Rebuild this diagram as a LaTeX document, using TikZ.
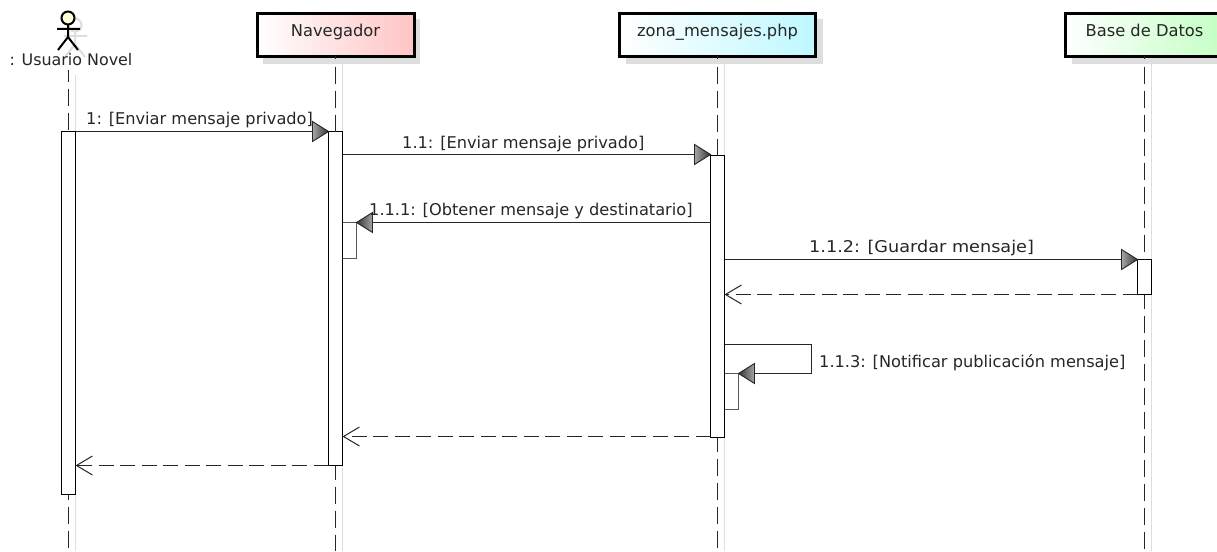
\documentclass[tikz,border=0pt]{standalone}
\usepackage{fontspec}
\setmainfont{DejaVu Sans}
\usetikzlibrary{arrows.meta}
\definecolor{lineink}{gray}{0.15}
\definecolor{shadowink}{gray}{0.87}
\definecolor{navpink}{RGB}{255,196,196}
\definecolor{phpcyan}{RGB}{190,248,255}
\definecolor{dbgreen}{RGB}{196,255,196}
\definecolor{actorhead}{RGB}{255,255,214}
\tikzset{
  headbox/.style={rectangle,draw=black,line width=3pt,minimum height=43pt,inner sep=0pt,outer sep=0pt,font=\fontsize{16.3}{19}\selectfont,text=lineink},
  headshadow/.style={fill=shadowink,draw=none},
  bar/.style={rectangle,draw=black,fill=white,line width=1.3pt,minimum width=14pt,inner sep=0pt,outer sep=0pt,anchor=north},
  selfbar/.style={bar,draw=black!65,anchor=north west,minimum height=36pt},
  lifeline/.style={draw=lineink,line width=1.3pt,dash pattern=on 17pt off 7pt},
  shadowline/.style={draw=shadowink,line width=1pt},
  msg/.style={draw=lineink,line width=1.3pt},
  reply/.style={draw=lineink,line width=1.3pt,dash pattern=on 15pt off 6.5pt,-{Straight Barb[length=16pt,width=19pt,line width=1pt]}},
  msglabel/.style={font=\fontsize{16.2}{19}\selectfont,text=lineink,inner sep=0pt,anchor=west},
  stick/.style={draw=black,line width=2pt},
  headright/.style={draw=black!85,line width=0.9pt,left color=gray!70,right color=black!80},
  headleft/.style={draw=black!85,line width=0.9pt,left color=black!80,right color=gray!70}
}
% filled message heads, each with its tip at the given point
\newcommand{\headtoright}[1]{\shadedraw[shift={(#1)},headright] (0,0) -- (-16,-10) -- (-16,10) -- cycle;}
\newcommand{\headtoleft}[1]{\shadedraw[shift={(#1)},headleft] (0,0) -- (16,-10) -- (16,10) -- cycle;}
\begin{document}
\begin{tikzpicture}[x=1pt,y=-1pt]
\useasboundingbox (0,0) rectangle (1217,551);
\clip (0,0) rectangle (1217,551);
\fill[white] (0,0) rectangle (1217,551);
% row levels
\coordinate (r1) at (0,131.5);
\coordinate (r2) at (0,154.5);
\coordinate (r3) at (0,222.5);
\coordinate (r4) at (0,259.5);
\coordinate (r5) at (0,294.5);
\coordinate (r6a) at (0,344.5);
\coordinate (r6b) at (0,373.5);
\coordinate (r7) at (0,436.5);
\coordinate (r8) at (0,465.5);
\coordinate (loopr) at (811.5,0);
% lifeline ends
\coordinate (uTop) at (68.5,70);
\coordinate (uEnd) at (68.5,551);
\coordinate (nEnd) at (335.5,551);
\coordinate (zEnd) at (717.5,551);
\coordinate (dEnd) at (1144.5,551);
% shadows
\fill[headshadow] (263,19) rectangle (420,64);
\fill[headshadow] (626,19) rectangle (823,64);
\fill[headshadow] (1072,19) rectangle (1230,64);
\draw[shadowline] (75.5,75) -- (75.5,551);
\draw[shadowline] (342.5,64) -- (342.5,551);
\draw[shadowline] (724.5,64) -- (724.5,551);
\draw[shadowline] (1151.5,64) -- (1151.5,551);
% actor shadow
\begin{scope}[draw=shadowink,line width=2pt,shift={(7,7)}]
  \draw (68,18) circle (6.5);
  \draw (68,24.5) -- (68,37) (57,29) -- (80,29) (58,50) -- (68,37) -- (78,50);
\end{scope}
% heads
\node[headbox,minimum width=157pt,left color=white,right color=navpink] (nav) at (335.5,35) {\raisebox{9pt}{Navegador}};
\node[headbox,minimum width=196pt,left color=white,right color=phpcyan] (php) at (717.5,35) {\raisebox{9pt}{zona\_mensajes.php}};
\node[headbox,minimum width=158pt,left color=white,right color=dbgreen] (db) at (1144.5,35) {\raisebox{9pt}{Base de Datos}};
% activation bars
\node[bar,minimum height=363pt] (bU) at (68.5,131.5) {};
\node[bar,minimum height=334pt] (bN) at (335.5,131.5) {};
\node[bar,minimum height=282pt] (bZ) at (717.5,155.5) {};
\node[bar,minimum height=35pt] (bD) at (1144.5,259.5) {};
% lifelines
\draw[lifeline,dash phase=5pt] (uTop) -- (bU.north);
\draw[lifeline,dash phase=12pt] (bU.south) -- (uEnd);
\draw[lifeline,dash phase=14pt] (nav.south) -- (bN.north);
\draw[lifeline,dash phase=3pt] (bN.south) -- (nEnd);
\draw[lifeline,dash phase=14pt] (php.south) -- (bZ.north);
\draw[lifeline,dash phase=3pt] (bZ.south) -- (zEnd);
\draw[lifeline,dash phase=14pt] (db.south) -- (bD.north);
\draw[lifeline,dash phase=3pt] (bD.south) -- (dEnd);
% self-call bars
\node[selfbar] (sN) at (342.5,222.5) {};
\node[selfbar] (sZ) at (724.5,373.5) {};
\draw[draw=black,line width=1.3pt] (bN.north east) -- (bN.south east);
\draw[draw=black,line width=1.3pt] (bZ.north east) -- (bZ.south east);
% actor
\filldraw[stick,fill=actorhead] (68,18) circle (6.5);
\coordinate (aNeck) at (68,24.5);
\coordinate (aHip) at (68,37);
\coordinate (aArmL) at (57,29);
\coordinate (aArmR) at (80,29);
\coordinate (aFootL) at (58,50);
\coordinate (aFootR) at (78,50);
\draw[stick] (aNeck) -- (aHip) (aArmL) -- (aArmR) (aFootL) -- (aHip) -- (aFootR);
\node[font=\fontsize{15.9}{19}\selectfont,text=lineink,inner sep=0pt] (ulabel) at (71,60) {: Usuario Novel};
% messages
\draw[msg] (bU.east |- r1) -- (bN.west |- r1);
\headtoright{bN.west |- r1}
\draw[msg] (bN.east |- r2) -- (bZ.west |- r2);
\headtoright{bZ.west |- r2}
\draw[msg] (bZ.west |- r3) -- (sN.east |- r3);
\headtoleft{sN.east |- r3}
\draw[msg] (bZ.east |- r4) -- (bD.west |- r4);
\headtoright{bD.west |- r4}
\draw[reply] (bD.west |- r5) -- (bZ.east |- r5);
\draw[msg] (bZ.east |- r6a) -- (loopr |- r6a) -- (loopr |- r6b) -- (sZ.east |- r6b);
\headtoleft{sZ.east |- r6b}
\draw[reply] (bZ.west |- r7) -- (bN.east |- r7);
\draw[reply] (bN.west |- r8) -- (bU.east |- r8);
% labels
\node[msglabel] (l1) at (86,120.5) {1: [Enviar mensaje privado]};
\node[msglabel] (l2) at (402,144.5) {1.1: [Enviar mensaje privado]};
\node[msglabel] (l3) at (369,211.5) {1.1.1: [Obtener mensaje y destinatario]};
\node[msglabel] (l4) at (809,248.5) {\scalebox{1.09}[1]{1.1.2: [Guardar mensaje]}};
\node[msglabel] (l5) at (819,362.5) {1.1.3: [Notificar publicación mensaje]};
\end{tikzpicture}
\end{document}
